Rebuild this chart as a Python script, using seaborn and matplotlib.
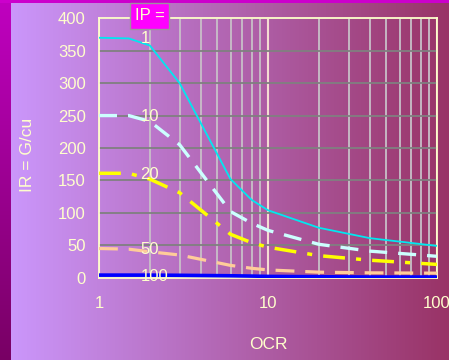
import numpy as np
import pandas as pd
import matplotlib
matplotlib.use("Agg")
import matplotlib.pyplot as plt
import seaborn as sns
from matplotlib.ticker import FixedLocator, NullFormatter, LogLocator
from matplotlib.patches import Rectangle

# ---------------- data ----------------
ocr = [1, 1.5, 2, 3, 6, 8, 10, 20, 40, 100]
ir_ip1 = [370, 369, 358, 300, 152, 120, 104, 77, 61, 49]
ir_ip10 = [250, 250, 241, 205, 102, 84, 73, 51.5, 41, 33]
ir_ip20 = [161, 161, 152, 131, 67, 54, 47, 34, 27, 20.5]
ir_ip50 = [45, 44, 40, 35, 19, 14.5, 12, 8.5, 7.5, 7]
ir_ip100 = [4, 4, 4, 3.7, 3, 2.5, 2, 1.5, 1, 1]
ip_labels = ["1", "10", "20", "50", "100"]
y_ticks = [0, 50, 100, 150, 200, 250, 300, 350, 400]
x_ticks = [1, 10, 100]
x_tick_labels = ["1", "10", "100"]
label_x = 1.76  # OCR position of the IP labels

series = [ir_ip1, ir_ip10, ir_ip20, ir_ip50, ir_ip100]
df = pd.concat(
    [pd.DataFrame({"OCR": ocr, "IR": s, "IP": lab}) for s, lab in zip(series, ip_labels)],
    ignore_index=True,
)

# ---------------- styles ----------------
sns.set_style("white")
plt.rcParams["font.family"] = ["Liberation Sans", "DejaVu Sans"]
CREAM = "#ffffcc"

styles = {
    "1": dict(color="#00e8f0", lw=1.3, ls="-"),
    "10": dict(color="#ccffff", lw=2.4, ls=(0, (5.4, 3.3))),
    "20": dict(color="#ffff00", lw=2.5, ls=(0, (6.3, 3.2, 1.45, 3.2))),
    "50": dict(color="#ffcc99", lw=2.3, ls=(0, (5.9, 3.4))),
    "100": dict(color="#0000ff", lw=2.6, ls="-"),
}

W, H = 449, 360
fig = plt.figure(figsize=(W / 100, H / 100), dpi=100)

# background gradient
xs = np.linspace(0, 1, W)
left = np.array([204, 153, 255]) / 255
right = np.array([153, 51, 102]) / 255
img = np.zeros((H, W, 3))
img[:, :, :] = left[None, None, :] * (1 - xs[None, :, None]) + right[None, None, :] * xs[None, :, None]
strip_top = np.array([192, 0, 192]) / 255
strip_bot = np.array([120, 0, 100]) / 255
ys = np.linspace(0, 1, H)
img[:, :11, :] = (strip_top[None, :] * (1 - ys[:, None]) + strip_bot[None, :] * ys[:, None])[:, None, :]
img[:3, :, :] = np.array([204, 0, 204]) / 255
bg = fig.add_axes([0, 0, 1, 1], zorder=-10)
bg.imshow(img, aspect="auto", extent=(0, 1, 0, 1), interpolation="bilinear")
bg.axis("off")

# main axes
x0, x1, y_top, y_bot = 99, 437, 18.3, 277.7
ax = fig.add_axes([x0 / W, 1 - y_bot / H, (x1 - x0) / W, (y_bot - y_top) / H])
ax.set_facecolor("none")
ax.set_xscale("log")

for lab in ip_labels:
    st = styles[lab]
    sub = df[df["IP"] == lab]
    sns.lineplot(data=sub, x="OCR", y="IR", ax=ax, estimator=None, sort=False,
                 color=st["color"], lw=st["lw"], linestyle=st["ls"], zorder=3)
    first = sub["IR"].iloc[0]
    ax.annotate(lab, xy=(label_x, first), xytext=(0, -4.0), textcoords="offset points",
                ha="left", va="baseline", fontsize=12, color=CREAM, zorder=4)

ax.set_xlim(1, 100)
ax.set_ylim(0, 400)
ax.xaxis.set_major_locator(FixedLocator(x_ticks))
ax.set_xticklabels(x_tick_labels)
ax.xaxis.set_minor_locator(LogLocator(base=10, subs=np.arange(2, 10)))
ax.xaxis.set_minor_formatter(NullFormatter())
ax.set_yticks(y_ticks)
ax.set_yticklabels([str(v) for v in y_ticks])

ax.set_axisbelow(True)
ax.yaxis.grid(True, which="major", color="#808080", lw=1.3)
ax.xaxis.grid(True, which="minor", color="#c8c0c8", lw=1.3)
ax.xaxis.grid(True, which="major", color="#f5dcd2", lw=1.5)

for sp in ax.spines.values():
    sp.set_color(CREAM)
    sp.set_linewidth(1.3)
    sp.set_visible(True)

ax.tick_params(axis="both", which="major", direction="out", color=CREAM, labelcolor=CREAM,
               labelsize=12, width=1.2)
ax.tick_params(axis="x", which="major", length=3.8, pad=9.5)
ax.tick_params(axis="y", which="major", length=3.6, pad=6)
ax.tick_params(axis="x", which="minor", length=0)

ax.set_xlabel("OCR", fontsize=12.5, color=CREAM, va="top")
ax.xaxis.set_label_coords(0.5, -0.229)
ax.set_ylabel("IR = G/cu", fontsize=12.5, color=CREAM)
ax.yaxis.set_label_coords(-0.19, 0.475)

# "IP =" header box
fig.patches.append(Rectangle((130 / W, 1 - 29.3 / H), 39.3 / W, 26.3 / H,
                             transform=fig.transFigure, facecolor="#ff00ff",
                             edgecolor="#a090a0", lw=1.0, zorder=5))
fig.text(149.5 / W, 1 - 15.5 / H, "IP =", ha="center", va="center", fontsize=12,
         color=CREAM, zorder=6)

fig.savefig("out.png", dpi=100)
